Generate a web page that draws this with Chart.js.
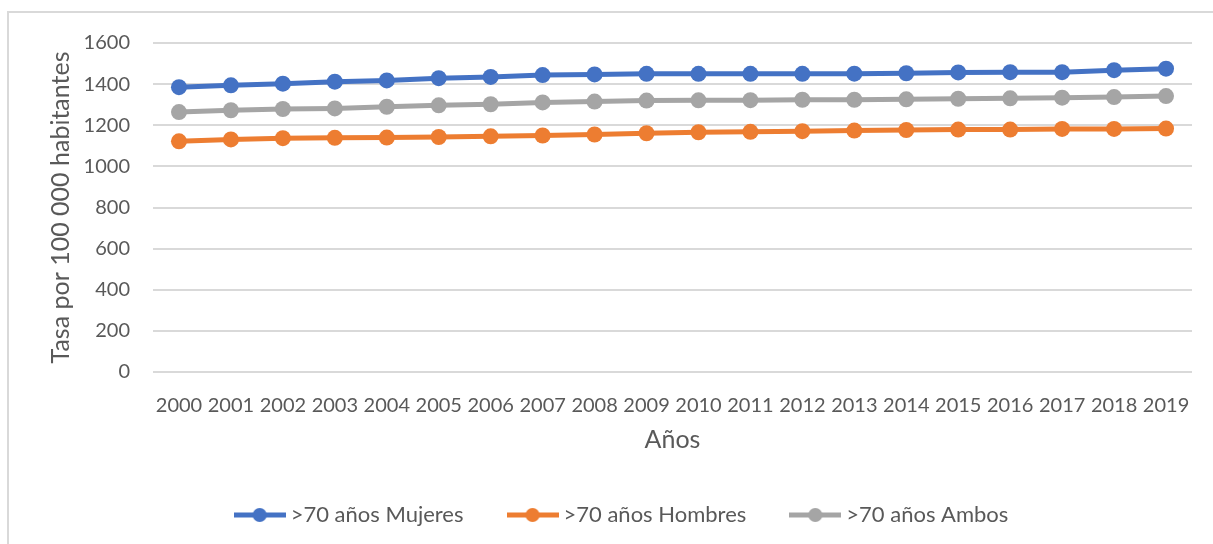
<!DOCTYPE html>
<html>
<head>
<meta charset="utf-8">
<script src="https://cdn.jsdelivr.net/npm/chart.js@4/dist/chart.umd.min.js"></script>
<style>
  html, body { margin: 0; padding: 0; background: #fff; overflow: hidden; }
  #wrap { position: relative; width: 1213px; height: 544px; }
  #frame { position: absolute; left: 7px; top: 11px; width: 1300px; height: 700px; border: 2px solid #d9d9d9; box-sizing: border-box; pointer-events: none; }
  canvas { position: absolute; left: 0; top: 0; }
</style>
</head>
<body>
<div id="wrap">
  <div id="frame"></div>
  <canvas id="c" width="1213" height="544"></canvas>
</div>
<script>
const years = ['2000','2001','2002','2003','2004','2005','2006','2007','2008','2009','2010','2011','2012','2013','2014','2015','2016','2017','2018','2019'];
const mujeres = [1385,1394,1402,1412,1418,1429,1435,1444,1447,1450,1450,1450,1450,1451,1453,1457,1458,1458,1468,1475];
const hombres = [1122,1131,1137,1139,1140,1143,1146,1150,1155,1161,1166,1168,1171,1174,1177,1179,1179,1182,1182,1184];
const ambos = [1264,1273,1279,1282,1290,1297,1302,1311,1315,1320,1321,1322,1324,1324,1326,1329,1331,1334,1337,1342];
const seriesNames = ['>70 años Mujeres', '>70 años Hombres', '>70 años Ambos'];
const seriesColors = ['#4472C4', '#ED7D31', '#A5A5A5'];
const yTicks = [0,200,400,600,800,1000,1200,1400,1600];

const FONT = 'Lato, "Open Sans", sans-serif';
const TEXT = '#595959';

function legendMarker(color) {
  const cv = document.createElement('canvas');
  cv.width = 52; cv.height = 16;
  const g = cv.getContext('2d');
  g.strokeStyle = color; g.lineWidth = 5;
  g.beginPath(); g.moveTo(0, 8); g.lineTo(52, 8); g.stroke();
  g.fillStyle = color;
  g.beginPath(); g.arc(26, 8, 7, 0, Math.PI * 2); g.fill();
  return cv;
}
const markers = seriesColors.map(legendMarker);

const datasets = [mujeres, hombres, ambos].map((d, i) => ({
  label: seriesNames[i],
  data: d,
  borderColor: seriesColors[i],
  backgroundColor: seriesColors[i],
  borderWidth: 5,
  pointRadius: 8,
  pointHoverRadius: 8,
  pointBorderWidth: 0,
  tension: 0
}));
datasets[0].order = 3; datasets[1].order = 2; datasets[2].order = 1;

const shiftLegend = {
  id: 'shiftLegend',
  afterLayout(chart) {
    if (chart.legend) { chart.legend.left += 9; chart.legend.right += 9; }
  }
};

new Chart(document.getElementById('c'), {
  type: 'line',
  data: { labels: years, datasets: datasets },
  plugins: [shiftLegend],
  options: {
    responsive: false,
    animation: false,
    devicePixelRatio: 1,
    layout: { padding: { left: 38, right: 21, top: 43, bottom: 8 } },
    plugins: {
      tooltip: { enabled: false },
      legend: {
        position: 'bottom',
        labels: {
          usePointStyle: true,
          pointStyleWidth: 40,
          padding: 49,
          color: TEXT,
          font: { family: FONT, size: 22 },
          generateLabels(chart) {
            return chart.data.datasets.map((ds, i) => ({
              text: ds.label,
              fillStyle: ds.backgroundColor,
              strokeStyle: ds.borderColor,
              fontColor: TEXT,
              lineWidth: 0,
              pointStyle: markers[i],
              hidden: false,
              datasetIndex: i
            }));
          }
        }
      }
    },
    scales: {
      x: {
        offset: true,
        grid: { display: false, drawTicks: false },
        border: { display: false },
        ticks: { color: TEXT, font: { family: FONT, size: 20 }, autoSkip: false, maxRotation: 0, minRotation: 0, padding: 22 },
        title: { display: true, text: 'Años', color: TEXT, font: { family: FONT, size: 25 }, padding: { top: 4, bottom: 0 } },
        afterFit(s) { s.height = 83; }
      },
      y: {
        min: 0, max: 1600,
        afterBuildTicks(s) { s.ticks = yTicks.map(v => ({ value: v })); },
        grid: { color: '#D9D9D9', lineWidth: 2, drawTicks: false },
        border: { display: false },
        ticks: { color: TEXT, font: { family: FONT, size: 20 }, padding: 23, callback: v => String(v) },
        title: { display: true, text: 'Tasa por 100 000 habitantes', color: TEXT, font: { family: FONT, size: 25 }, padding: { top: 8, bottom: 0 } },
        afterFit(s) { s.width = 153 - 38; }
      }
    }
  }
});
</script>
</body>
</html>
